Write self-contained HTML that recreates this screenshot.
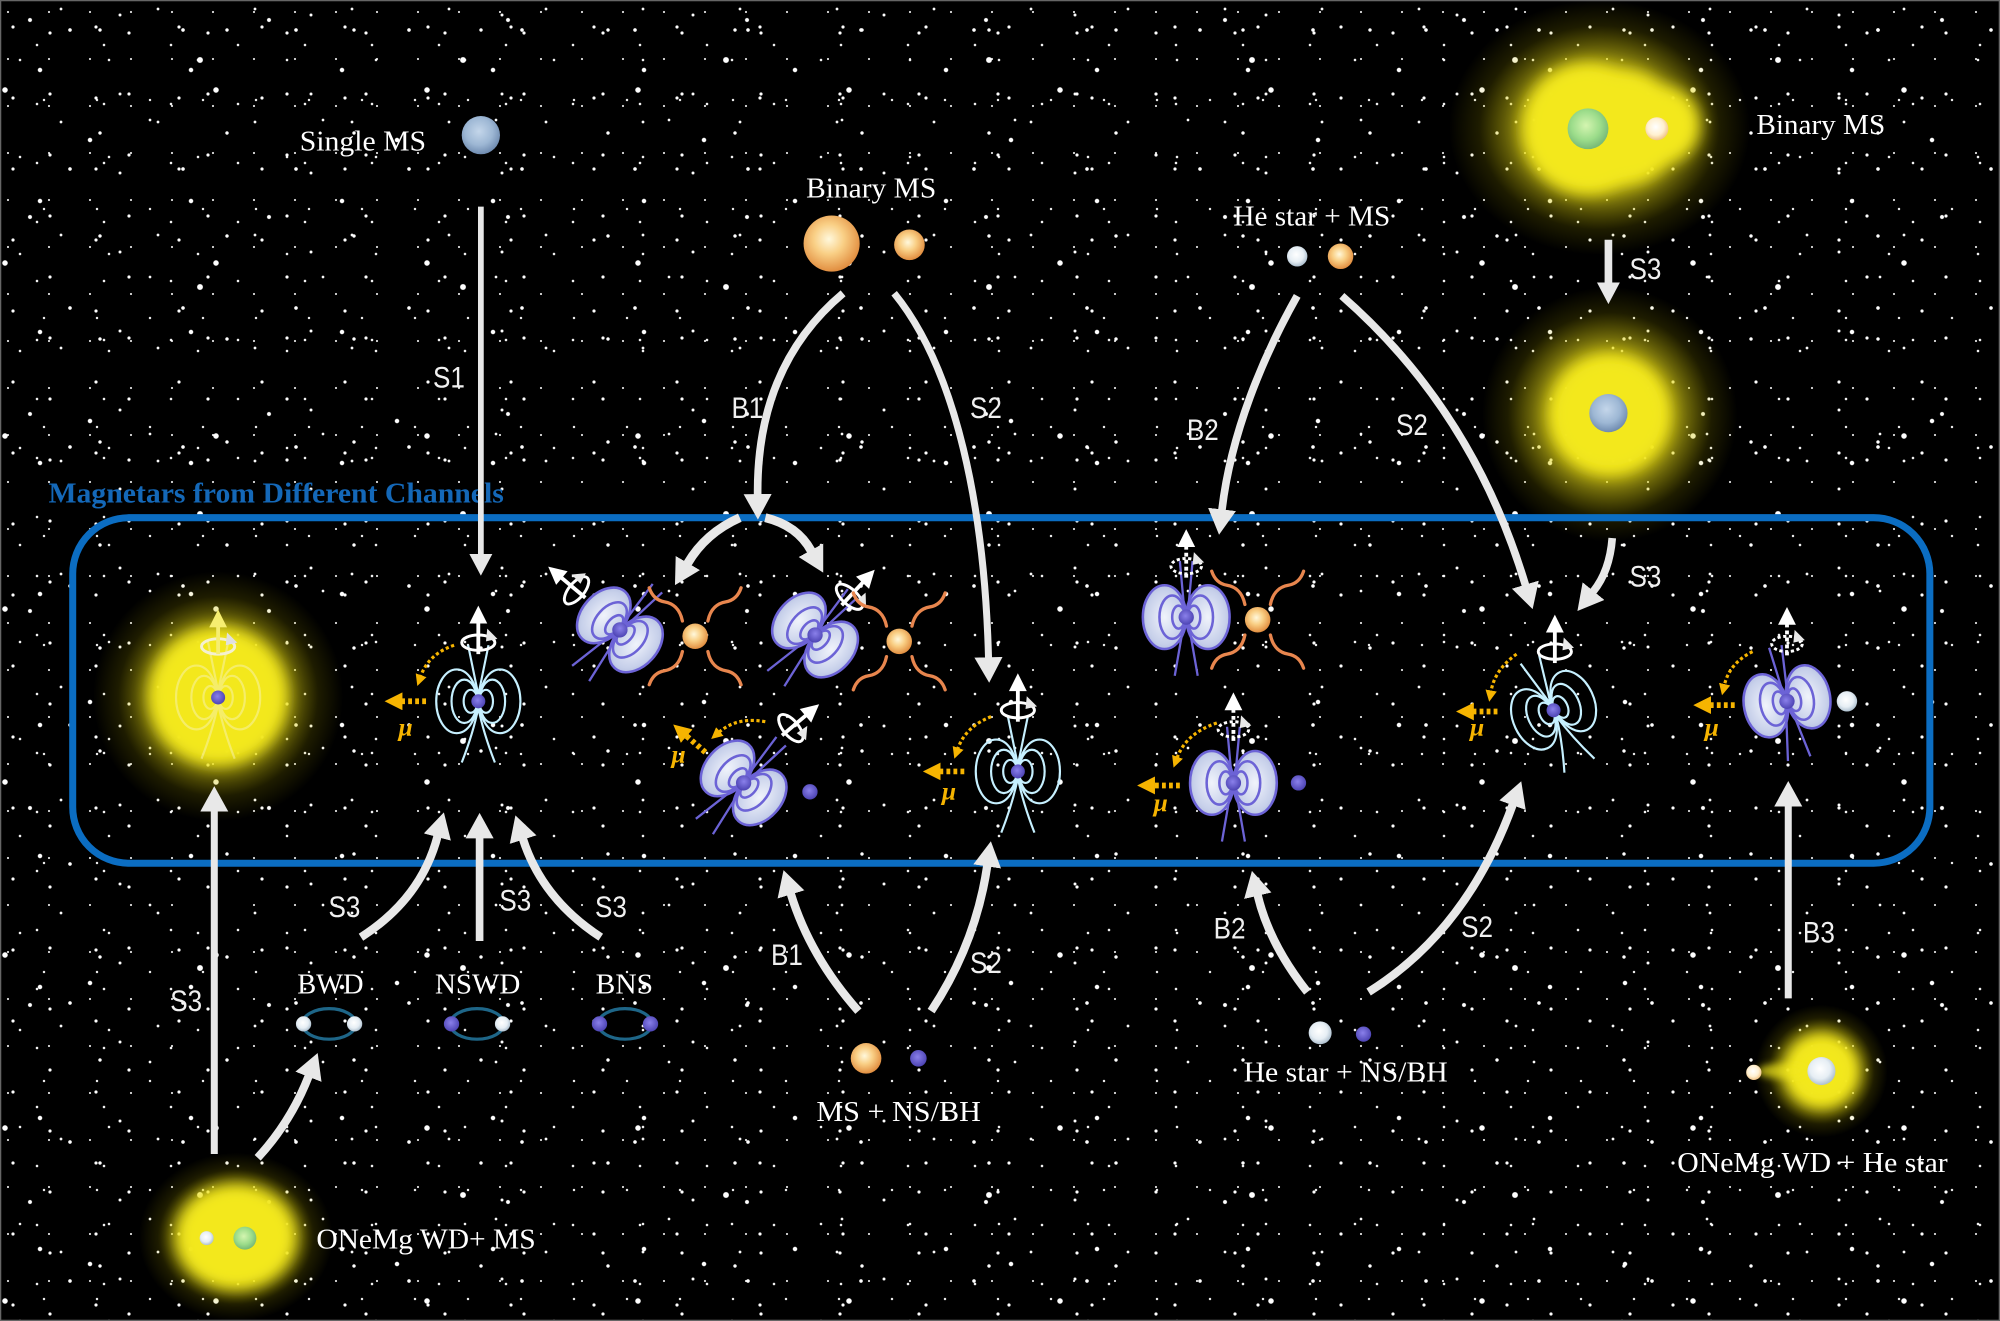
<!DOCTYPE html>
<html><head><meta charset="utf-8">
<style>
html,body{margin:0;padding:0;background:#000;}
#wrap{position:relative;width:2000px;height:1321px;overflow:hidden;background-color:#000;
background-image:
radial-gradient(circle at 13px 27px,#fff 0,#fff 1.2px,rgba(255,255,255,0) 2px),
radial-gradient(circle at 61px 9px,#fff 0,#fff 1px,rgba(255,255,255,0) 1.8px),
radial-gradient(circle at 40px 70px,#fff 0,#fff 1.8px,rgba(255,255,255,0) 2.6px),
radial-gradient(circle at 100px 30px,#fff 0,#fff 1.3px,rgba(255,255,255,0) 2.1px),
radial-gradient(circle at 5px 90px,#fff 0,#fff 2.3px,rgba(255,255,255,0) 3.1px),
radial-gradient(circle at 150px 120px,#fff 0,#fff 1px,rgba(255,255,255,0) 1.7px),
radial-gradient(circle at 37px 45px,#fff 0,#fff .9px,rgba(255,255,255,0) 1.6px),
radial-gradient(circle at 30px 20px,#fff 0,#fff 1.6px,rgba(255,255,255,0) 2.4px),
radial-gradient(circle at 200px 60px,#fff 0,#fff 2.5px,rgba(255,255,255,0) 3.3px),
radial-gradient(circle at 44px 100px,#fff 0,#fff .8px,rgba(255,255,255,0) 1.5px),
radial-gradient(circle at 120px 15px,#fff 0,#fff 1.1px,rgba(255,255,255,0) 1.9px),
radial-gradient(circle at 90px 140px,#fff 0,#fff 1.8px,rgba(255,255,255,0) 2.6px),
radial-gradient(circle at 70px 30px,#fff 0,#fff 1.4px,rgba(255,255,255,0) 2.2px),
radial-gradient(circle at 20px 60px,#fff 0,#fff .9px,rgba(255,255,255,0) 1.6px),
radial-gradient(circle at 8px 12px,#fff 0,#fff .7px,rgba(255,255,255,0) 1.3px),
radial-gradient(circle at 50px 33px,#fff 0,#fff 1.2px,rgba(255,255,255,0) 2px);
background-size:83px 71px,97px 113px,151px 131px,127px 103px,211px 173px,173px 157px,67px 59px,239px 197px,263px 227px,53px 109px,191px 79px,307px 281px,113px 139px,89px 97px,41px 47px,79px 61px;}
svg{position:absolute;left:0;top:0;}
</style></head><body><div id="wrap">
<svg width="2000" height="1321" viewBox="0 0 1568 1036" preserveAspectRatio="none" xmlns="http://www.w3.org/2000/svg">
<defs>
<radialGradient id="gOr" cx="45%" cy="42%" r="60%"><stop offset="0" stop-color="#fff8dc"/><stop offset=".45" stop-color="#f9cf85"/><stop offset="1" stop-color="#e08a3c"/></radialGradient>
<radialGradient id="gBl" cx="45%" cy="40%" r="60%"><stop offset="0" stop-color="#c4d6ea"/><stop offset=".6" stop-color="#9db7d4"/><stop offset="1" stop-color="#6f8bb0"/></radialGradient>
<radialGradient id="gGr" cx="45%" cy="42%" r="60%"><stop offset="0" stop-color="#d4f5b0"/><stop offset=".6" stop-color="#9bdc8a"/><stop offset="1" stop-color="#74b676"/></radialGradient>
<radialGradient id="gWh" cx="45%" cy="42%" r="60%"><stop offset="0" stop-color="#ffffff"/><stop offset=".6" stop-color="#e6eef4"/><stop offset="1" stop-color="#a9bccc"/></radialGradient>
<radialGradient id="gWo" cx="45%" cy="42%" r="60%"><stop offset="0" stop-color="#ffffff"/><stop offset=".6" stop-color="#fff0d0"/><stop offset="1" stop-color="#f0c080"/></radialGradient>
<radialGradient id="gPu" cx="45%" cy="42%" r="60%"><stop offset="0" stop-color="#8a80ea"/><stop offset="1" stop-color="#4b42b2"/></radialGradient>
<radialGradient id="gLobe" cx="50%" cy="50%" r="60%"><stop offset="0" stop-color="#f0f3fb"/><stop offset=".7" stop-color="#c7d0ea"/><stop offset="1" stop-color="#aab5da"/></radialGradient>
<radialGradient id="gGlow"><stop offset="0" stop-color="#f4e81c" stop-opacity="1"/><stop offset=".4" stop-color="#f2e41a" stop-opacity=".9"/><stop offset=".6" stop-color="#e0d414" stop-opacity=".5"/><stop offset=".8" stop-color="#c8bc00" stop-opacity=".15"/><stop offset="1" stop-color="#c8bc00" stop-opacity="0"/></radialGradient>
<filter id="bl" x="-60%" y="-60%" width="220%" height="220%"><feGaussianBlur stdDeviation="6"/></filter>
<filter id="bl2" x="-60%" y="-60%" width="220%" height="220%"><feGaussianBlur stdDeviation="3"/></filter>
<marker id="ah" markerUnits="userSpaceOnUse" viewBox="0 0 20 22" markerWidth="20" markerHeight="22" refX="0.5" refY="11" orient="auto"><path d="M0,0 L20,11 L0,22 Z" fill="#e8e8e8"/></marker>
<marker id="ahs" markerUnits="userSpaceOnUse" viewBox="0 0 17 18" markerWidth="17" markerHeight="18" refX="0.5" refY="9" orient="auto"><path d="M0,0 L17,9 L0,18 Z" fill="#e8e8e8"/></marker>
<marker id="ymb" markerUnits="userSpaceOnUse" viewBox="0 0 14 14" markerWidth="14" markerHeight="14" refX="0.5" refY="7" orient="auto"><path d="M0,0 L14,7 L0,14 Z" fill="#f6b400"/></marker>
<marker id="yms" markerUnits="userSpaceOnUse" viewBox="0 0 9 9" markerWidth="9" markerHeight="9" refX="0.5" refY="4.5" orient="auto"><path d="M0,0 L9,4.5 L0,9 Z" fill="#f6b400"/></marker>
<g id="mag" fill="none" stroke-width="1.7">
<ellipse cx="-17" cy="0" rx="16" ry="25"/><ellipse cx="17" cy="0" rx="16" ry="25"/>
<ellipse cx="-11" cy="0" rx="10" ry="17"/><ellipse cx="11" cy="0" rx="10" ry="17"/>
<ellipse cx="-6" cy="0" rx="5.5" ry="9"/><ellipse cx="6" cy="0" rx="5.5" ry="9"/>
<path d="M0,-5 L-8,-44 M0,-5 L8,-44 M0,5 Q-4,25 -13,48 M0,5 Q4,25 13,48"/>
</g>
<g id="psr" stroke="#6c63d6" stroke-width="2">
<ellipse cx="-17" cy="0" rx="17" ry="25" fill="url(#gLobe)"/>
<ellipse cx="17" cy="0" rx="17" ry="25" fill="url(#gLobe)"/>
<g fill="none">
<ellipse cx="-11" cy="0" rx="10" ry="17"/><ellipse cx="11" cy="0" rx="10" ry="17"/>
<ellipse cx="-6" cy="0" rx="5" ry="9"/><ellipse cx="6" cy="0" rx="5" ry="9"/>
<path d="M-1,0 L-5,-44 M1,0 L5,-44 M-1,0 L-9,46 M1,0 L9,46" stroke-width="1.8"/>
</g>
<circle r="6" fill="url(#gPu)" stroke="none"/>
</g>
<g id="spin">
<line x1="0" y1="9" x2="0" y2="-16" stroke="#fff" stroke-width="3"/>
<path d="M-7,-15 L0,-29 L7,-15 Z" fill="#fff"/>
<ellipse rx="13" ry="6" fill="none" stroke="#fff" stroke-width="2.3"/>
<path d="M7,-11 L15,-3 L6,-1 Z" fill="#e8e8e8"/>
</g>
<g id="spind">
<line x1="0" y1="9" x2="0" y2="-16" stroke="#fff" stroke-width="3" stroke-dasharray="3 2.5"/>
<path d="M-7,-15 L0,-29 L7,-15 Z" fill="#fff"/>
<ellipse rx="12" ry="6" fill="none" stroke="#fff" stroke-width="2.3" stroke-dasharray="2.5 2"/>
<path d="M6,-11 L14,-3 L5,-1 Z" fill="#e8e8e8"/>
</g>
<path id="gwq" d="M10,-12 C12,-22 18,-26 24,-27 C30,-28 34,-32 36,-38" fill="none" stroke="#e8864e" stroke-width="2.6" stroke-linecap="round"/>
<g id="gw"><use href="#gwq"/><use href="#gwq" transform="scale(-1,1)"/><use href="#gwq" transform="scale(1,-1)"/><use href="#gwq" transform="scale(-1,-1)"/></g>
</defs>

<!-- glows -->
<ellipse cx="1254" cy="100" rx="118" ry="100" fill="url(#gGlow)"/>
<g filter="url(#bl)" fill="#f3e81c"><ellipse cx="1244" cy="101" rx="50" ry="51"/><ellipse cx="1272" cy="100" rx="46" ry="44"/><ellipse cx="1301" cy="98" rx="32" ry="31"/></g>
<circle cx="1262" cy="325" r="100" fill="url(#gGlow)"/>
<circle cx="1262" cy="325" r="46" fill="#f3e81c" filter="url(#bl)"/>
<circle cx="171" cy="546" r="98" fill="url(#gGlow)"/>
<circle cx="171" cy="546" r="54" fill="#f3e81c" filter="url(#bl)"/>
<ellipse cx="185" cy="970" rx="76" ry="66" fill="url(#gGlow)"/>
<ellipse cx="185" cy="970" rx="47" ry="41" fill="#f3e81c" filter="url(#bl)"/>
<circle cx="1428" cy="840" r="52" fill="url(#gGlow)"/>
<circle cx="1428" cy="840" r="28" fill="#f3e81c" filter="url(#bl)"/>
<ellipse cx="1398" cy="840" rx="20" ry="6" fill="#f3e81c" opacity=".7" filter="url(#bl2)"/>

<!-- border -->
<rect x="0.5" y="0.5" width="1567" height="1035" fill="none" stroke="#666" stroke-width="1"/>

<!-- box + title -->
<rect x="57" y="406" width="1456" height="271" rx="44" ry="44" fill="none" stroke="#0b6dc2" stroke-width="5.5"/>
<text x="38" y="394" font-family="Liberation Serif, serif" font-weight="bold" font-size="22" fill="#1468b8" textLength="357" lengthAdjust="spacingAndGlyphs">Magnetars from Different Channels</text>

<!-- spheres -->
<circle cx="377" cy="106" r="15" fill="url(#gBl)"/>
<circle cx="652" cy="191" r="22" fill="url(#gOr)"/>
<circle cx="713" cy="192" r="12" fill="url(#gOr)"/>
<circle cx="1017" cy="201" r="8" fill="url(#gWh)"/>
<circle cx="1051" cy="201" r="10" fill="url(#gOr)"/>
<circle cx="1245" cy="101" r="16" fill="url(#gGr)"/>
<circle cx="1299" cy="101" r="9" fill="url(#gWo)"/>
<circle cx="1261" cy="324" r="15" fill="url(#gBl)"/>
<circle cx="162" cy="971" r="5.5" fill="url(#gWh)"/>
<circle cx="192" cy="971" r="9" fill="url(#gGr)"/>
<circle cx="1428" cy="840" r="11" fill="url(#gWh)"/>
<circle cx="1375" cy="841" r="6" fill="url(#gWo)"/>
<circle cx="679" cy="830" r="12" fill="url(#gOr)"/>
<circle cx="720" cy="830" r="6.5" fill="url(#gPu)"/>
<circle cx="1035" cy="810" r="9" fill="url(#gWh)"/>
<circle cx="1069" cy="811" r="6" fill="url(#gPu)"/>

<!-- orbits -->
<g fill="none" stroke="#1e6688" stroke-width="2.5">
<ellipse cx="258" cy="803" rx="21" ry="12"/>
<ellipse cx="374" cy="803" rx="21" ry="12"/>
<ellipse cx="490" cy="803" rx="21" ry="12"/>
</g>
<circle cx="238" cy="803" r="6" fill="url(#gWh)"/>
<circle cx="278" cy="803" r="6" fill="url(#gWh)"/>
<circle cx="354" cy="803" r="6" fill="url(#gPu)"/>
<circle cx="394" cy="803" r="6" fill="url(#gWh)"/>
<circle cx="470" cy="803" r="6" fill="url(#gPu)"/>
<circle cx="510" cy="803" r="6" fill="url(#gPu)"/>

<!-- magnetars / pulsars inside box -->
<use href="#mag" transform="translate(171,547)" stroke="#f8f2a8" opacity=".55"/>
<circle cx="171" cy="547" r="5.5" fill="url(#gPu)"/>
<g transform="translate(171,507)">
<ellipse rx="13" ry="6" fill="none" stroke="#f4f0d0" stroke-width="2.3"/>
<line x1="0" y1="6" x2="0" y2="-16" stroke="#f6ee70" stroke-width="3"/>
<path d="M-7,-15 L0,-29 L7,-15 Z" fill="#f6ee70"/>
<path d="M7,-11 L15,-3 L6,-1 Z" fill="#e0e0e0"/>
</g>

<use href="#mag" transform="translate(375,550)" stroke="#c6f0ff"/>
<circle cx="375" cy="550" r="5.5" fill="url(#gPu)"/>
<use href="#spin" transform="translate(375,504)"/>

<use href="#psr" transform="translate(486,494) rotate(42)"/>
<use href="#spin" transform="translate(452,463) rotate(-50)"/>
<use href="#gw" transform="translate(545,499)"/>
<circle cx="545" cy="499" r="10" fill="url(#gOr)"/>

<use href="#psr" transform="translate(639,498) rotate(42)"/>
<use href="#spin" transform="translate(666,468) rotate(43)"/>
<use href="#gw" transform="translate(705,503)"/>
<circle cx="705" cy="503" r="10" fill="url(#gOr)"/>

<use href="#psr" transform="translate(583,614) rotate(42)"/>
<use href="#spin" transform="translate(620,571) rotate(50)"/>
<circle cx="635" cy="621" r="6" fill="url(#gPu)"/>

<use href="#mag" transform="translate(798,605)" stroke="#c6f0ff"/>
<circle cx="798" cy="605" r="5.5" fill="url(#gPu)"/>
<use href="#spin" transform="translate(798,557)"/>

<use href="#psr" transform="translate(930,484)"/>
<use href="#spind" transform="translate(930,444)"/>
<use href="#gw" transform="translate(986,486)"/>
<circle cx="986" cy="486" r="10" fill="url(#gOr)"/>

<use href="#psr" transform="translate(967,614)"/>
<use href="#spind" transform="translate(967,572)"/>
<circle cx="1018" cy="614" r="6" fill="url(#gPu)"/>

<use href="#mag" transform="translate(1218,557) rotate(-25)" stroke="#c6f0ff"/>
<circle cx="1218" cy="557" r="5.5" fill="url(#gPu)"/>
<use href="#spin" transform="translate(1219,511)"/>

<use href="#psr" transform="translate(1401,550) rotate(-12)"/>
<use href="#spind" transform="translate(1401,505)"/>
<circle cx="1448" cy="550" r="8" fill="url(#gWh)"/>

<!-- mu arrows -->
<g fill="none" stroke="#f6b400">
<path d="M334,550 L315,550" stroke-width="4.5" stroke-dasharray="3 2.5" marker-end="url(#ymb)"/>
<path d="M356,506 Q336,513 330,530" stroke-width="2.5" stroke-dasharray="2.5 2" marker-end="url(#yms)"/>
<path d="M553,590 L538,577" stroke-width="4.5" stroke-dasharray="3 2.5" marker-end="url(#ymb)"/>
<path d="M600,566 Q578,562 564,574" stroke-width="2.5" stroke-dasharray="2.5 2" marker-end="url(#yms)"/>
<path d="M756,605 L737,605" stroke-width="4.5" stroke-dasharray="3 2.5" marker-end="url(#ymb)"/>
<path d="M777,562 Q757,570 751,587" stroke-width="2.5" stroke-dasharray="2.5 2" marker-end="url(#yms)"/>
<path d="M925,616 L905,616" stroke-width="4.5" stroke-dasharray="3 2.5" marker-end="url(#ymb)"/>
<path d="M954,567 Q930,575 923,594" stroke-width="2.5" stroke-dasharray="2.5 2" marker-end="url(#yms)"/>
<path d="M1174,558 L1155,558" stroke-width="4.5" stroke-dasharray="3 2.5" marker-end="url(#ymb)"/>
<path d="M1189,513 Q1172,525 1169,542" stroke-width="2.5" stroke-dasharray="2.5 2" marker-end="url(#yms)"/>
<path d="M1360,553 L1341,553" stroke-width="4.5" stroke-dasharray="3 2.5" marker-end="url(#ymb)"/>
<path d="M1374,511 Q1356,520 1352,537" stroke-width="2.5" stroke-dasharray="2.5 2" marker-end="url(#yms)"/>
</g>
<g font-family="Liberation Serif, serif" font-style="italic" font-weight="bold" font-size="20" fill="#f6b400" text-anchor="middle">
<text x="318" y="577">μ</text>
<text x="532" y="598">μ</text>
<text x="744" y="627">μ</text>
<text x="910" y="636">μ</text>
<text x="1158" y="577">μ</text>
<text x="1342" y="577">μ</text>
</g>

<!-- main arrows -->
<g fill="none" stroke="#e8e8e8" stroke-linecap="butt">
<path d="M377,162 L377,435" stroke-width="4.5" marker-end="url(#ahs)"/>
<path d="M661,230 Q593,287 594,388" stroke-width="6" marker-end="url(#ah)"/>
<path d="M701,230 C750,290 772,400 775,516" stroke-width="5.5" marker-end="url(#ah)"/>
<path d="M580,406 Q553,418 539,442" stroke-width="7" marker-end="url(#ah)"/>
<path d="M600,406 Q625,412 636,432" stroke-width="7" marker-end="url(#ah)"/>
<path d="M1017,232 C990,280 965,340 958,400" stroke-width="6" marker-end="url(#ah)"/>
<path d="M1052,232 Q1155,322 1196,459" stroke-width="6" marker-end="url(#ah)"/>
<path d="M1261,188 L1261,222" stroke-width="6" marker-end="url(#ahs)"/>
<path d="M1264,422 Q1262,448 1249,464" stroke-width="6" marker-end="url(#ah)"/>
<path d="M168,905 L168,636" stroke-width="5.5" marker-end="url(#ah)"/>
<path d="M202,908 Q228,880 242,844" stroke-width="6.5" marker-end="url(#ah)"/>
<path d="M283,735 Q330,705 343,656" stroke-width="6.5" marker-end="url(#ah)"/>
<path d="M376,738 L376,657" stroke-width="6" marker-end="url(#ah)"/>
<path d="M471,735 Q425,705 410,658" stroke-width="6.5" marker-end="url(#ah)"/>
<path d="M673,793 Q635,750 620,701" stroke-width="6.5" marker-end="url(#ah)"/>
<path d="M730,793 Q765,740 774,679" stroke-width="6.5" marker-end="url(#ah)"/>
<path d="M1025,778 Q995,740 986,702" stroke-width="6.5" marker-end="url(#ah)"/>
<path d="M1073,778 Q1150,730 1186,631" stroke-width="6.5" marker-end="url(#ah)"/>
<path d="M1402,783 L1402,632" stroke-width="5.5" marker-end="url(#ah)"/>
</g>

<!-- serif labels -->
<g font-family="Liberation Serif, serif" fill="#fff" font-size="22">
<text x="235" y="118" textLength="99" lengthAdjust="spacingAndGlyphs">Single MS</text>
<text x="632" y="155" textLength="102" lengthAdjust="spacingAndGlyphs">Binary MS</text>
<text x="967" y="177" textLength="123" lengthAdjust="spacingAndGlyphs">He star + MS</text>
<text x="1377" y="105" textLength="101" lengthAdjust="spacingAndGlyphs">Binary MS</text>
<text x="233" y="779" textLength="52" lengthAdjust="spacingAndGlyphs">BWD</text>
<text x="341" y="779" textLength="67" lengthAdjust="spacingAndGlyphs">NSWD</text>
<text x="467" y="779" textLength="45" lengthAdjust="spacingAndGlyphs">BNS</text>
<text x="248" y="979" textLength="172" lengthAdjust="spacingAndGlyphs">ONeMg WD+ MS</text>
<text x="640" y="879" textLength="129" lengthAdjust="spacingAndGlyphs">MS + NS/BH</text>
<text x="975" y="848" textLength="160" lengthAdjust="spacingAndGlyphs">He star + NS/BH</text>
<text x="1315" y="919" textLength="212" lengthAdjust="spacingAndGlyphs">ONeMg WD + He star</text>
</g>

<!-- sans labels -->
<g font-family="Liberation Sans, sans-serif" font-size="23" fill="#f0f0f0" text-anchor="middle">
<text x="352" y="304" textLength="25" lengthAdjust="spacingAndGlyphs">S1</text>
<text x="586" y="328" textLength="25" lengthAdjust="spacingAndGlyphs">B1</text>
<text x="773" y="328" textLength="25" lengthAdjust="spacingAndGlyphs">S2</text>
<text x="943" y="345" textLength="25" lengthAdjust="spacingAndGlyphs">B2</text>
<text x="1107" y="341" textLength="25" lengthAdjust="spacingAndGlyphs">S2</text>
<text x="1290" y="219" textLength="25" lengthAdjust="spacingAndGlyphs">S3</text>
<text x="1290" y="460" textLength="25" lengthAdjust="spacingAndGlyphs">S3</text>
<text x="146" y="793" textLength="25" lengthAdjust="spacingAndGlyphs">S3</text>
<text x="270" y="719" textLength="25" lengthAdjust="spacingAndGlyphs">S3</text>
<text x="404" y="714" textLength="25" lengthAdjust="spacingAndGlyphs">S3</text>
<text x="479" y="719" textLength="25" lengthAdjust="spacingAndGlyphs">S3</text>
<text x="617" y="757" textLength="25" lengthAdjust="spacingAndGlyphs">B1</text>
<text x="773" y="763" textLength="25" lengthAdjust="spacingAndGlyphs">S2</text>
<text x="964" y="736" textLength="25" lengthAdjust="spacingAndGlyphs">B2</text>
<text x="1158" y="735" textLength="25" lengthAdjust="spacingAndGlyphs">S2</text>
<text x="1426" y="739" textLength="25" lengthAdjust="spacingAndGlyphs">B3</text>
</g>
</svg>
</div></body></html>
